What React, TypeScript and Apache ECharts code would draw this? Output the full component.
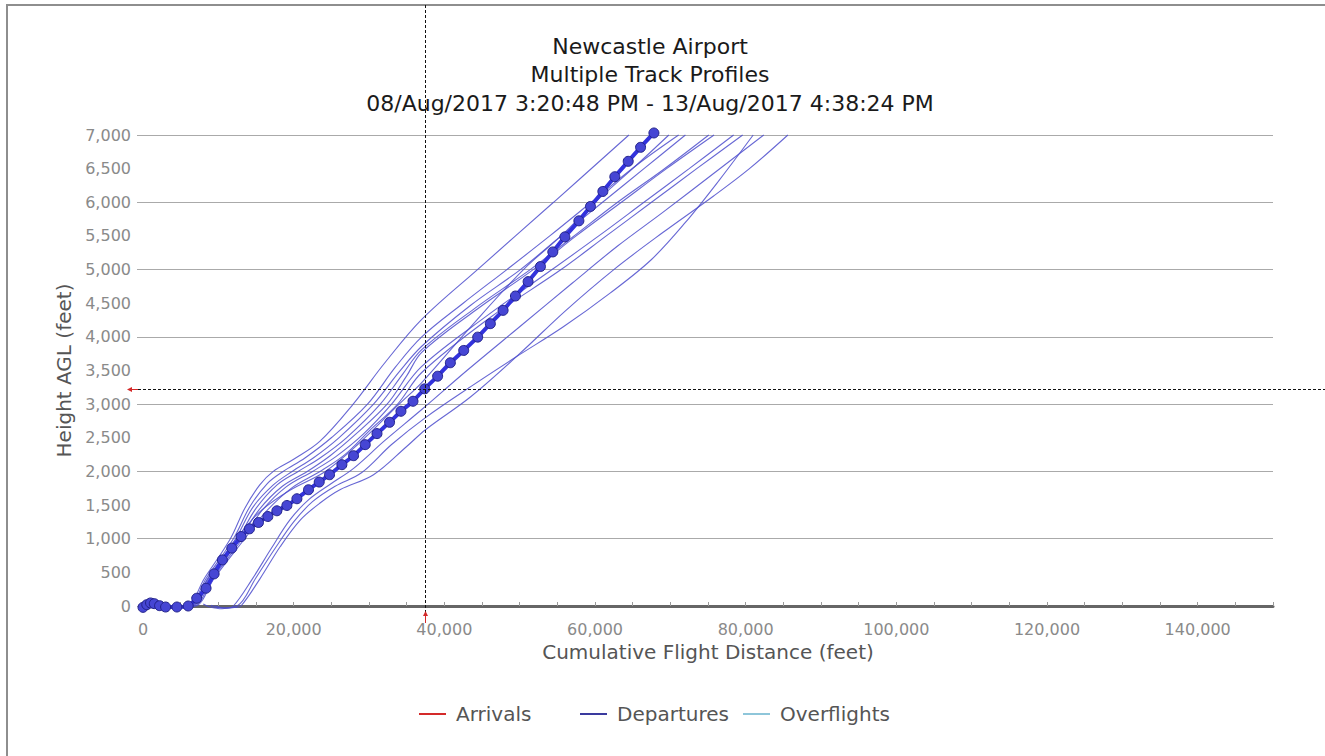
import React, { useEffect, useRef } from "react";
import * as echarts from "echarts";

const FONT = "DejaVu Sans";

const titleLines = [
  "Newcastle Airport",
  "Multiple Track Profiles",
  "08/Aug/2017 3:20:48 PM - 13/Aug/2017 4:38:24 PM",
];

const yLabelValues = [0, 500, 1000, 1500, 2000, 2500, 3000, 3500, 4000, 4500, 5000, 5500, 6000, 6500, 7000];
const xLabelValues = [0, 20000, 40000, 60000, 80000, 100000, 120000, 140000];

// Highlighted departure (thick, with points)
const trackSelected = [
  [0, -20], [500, 20], [1000, 45], [1500, 35], [2200, 5], [3000, -15], [4500, -15], [6000, 0],
  [7130, 115], [8370, 264], [9440, 477], [10540, 685], [11790, 860], [13020, 1032], [14130, 1147],
  [15330, 1241], [16570, 1330], [17770, 1415], [19100, 1494], [20430, 1594], [21970, 1728],
  [23390, 1842], [24760, 1951], [26400, 2100], [27950, 2234], [29500, 2398], [31060, 2562],
  [32730, 2730], [34240, 2894], [35840, 3043], [37390, 3228], [39110, 3415], [40800, 3615],
  [42570, 3798], [44430, 3996], [46110, 4196], [47800, 4394], [49440, 4607], [51120, 4821],
  [52760, 5045], [54400, 5262], [56000, 5486], [57860, 5724], [59400, 5938], [61040, 6161],
  [62630, 6380], [64410, 6609], [66050, 6817], [67820, 7030],
];

const trackU1 = [[400, 0], [3500, -15], [5800, 0], [8200, 420], [11600, 1000], [13500, 1450], [15500, 1800], [17300, 2000], [20000, 2180], [23500, 2450], [27900, 3000], [32000, 3600], [37000, 4260], [44400, 5000], [54500, 6000], [64500, 7000]];
const trackU2 = [[700, 0], [4000, -15], [6000, 0], [8500, 430], [12000, 1000], [14200, 1480], [16500, 1820], [18600, 2000], [21500, 2200], [25000, 2500], [29800, 3000], [33500, 3550], [37000, 4000], [42500, 4500], [48300, 5000], [54000, 5500], [59500, 6000], [65500, 6550], [71100, 7000]];
const trackU3 = [[1100, 0], [4200, -20], [6200, 0], [8700, 430], [12300, 1000], [14600, 1470], [17300, 1800], [19800, 2000], [22600, 2200], [26000, 2500], [30600, 3000], [34000, 3480], [37000, 3860], [43500, 4470], [50100, 5000], [55500, 5500], [61000, 6000], [66500, 6500], [72000, 7000]];
const trackU4 = [[600, 0], [4500, -15], [6400, 0], [8900, 420], [12600, 1000], [15000, 1450], [17800, 1800], [20600, 2000], [23500, 2200], [27000, 2500], [31500, 3000], [34500, 3450], [37000, 3810], [44000, 4420], [51400, 5000], [57000, 5480], [63000, 6000], [69000, 6480], [75100, 7000]];
const trackU5 = [[900, 0], [4500, -20], [6600, 0], [9100, 420], [12900, 1000], [15400, 1430], [18500, 1780], [21800, 2000], [24800, 2230], [28200, 2550], [32400, 3000], [35000, 3420], [37000, 3770], [44200, 4400], [51800, 5000], [57500, 5500], [63500, 6000], [69500, 6500], [75800, 7000]];
const trackU6 = [[1300, 0], [4800, -15], [6800, 0], [9300, 420], [13200, 1000], [15800, 1420], [19000, 1770], [22500, 2000], [25600, 2220], [29200, 2550], [33000, 3000], [37000, 3560], [45500, 4300], [54300, 5000], [60500, 5500], [66500, 6000], [72500, 6500], [78400, 7000]];
const trackU7 = [[500, 0], [5000, -15], [7000, 0], [9500, 420], [13500, 1000], [16300, 1400], [19800, 1760], [23500, 2000], [26800, 2250], [30000, 2600], [33800, 3000], [37000, 3470], [46000, 4280], [55500, 5000], [61500, 5500], [67500, 6000], [73500, 6500], [79600, 7000]];
const trackU8 = [[1500, 0], [5200, -10], [6300, 0], [8800, 430], [12400, 1000], [15500, 1400], [19500, 1720], [24200, 2000], [28500, 2400], [34000, 3000], [37000, 3320], [43500, 4150], [50500, 5000], [55500, 5500], [60000, 6000], [65000, 6500], [69800, 7000]];
const trackL1 = [[8000, 30], [8800, -10], [10500, -40], [12300, -20], [13000, 0], [15500, 400], [18200, 880], [20900, 1280], [23500, 1530], [26200, 1730], [30600, 1950], [35000, 2370], [37500, 2620], [43500, 3110], [50000, 3750], [56000, 4380], [62500, 5000], [69000, 5550], [75700, 6090], [80500, 6500], [85600, 7000]];
const trackL2 = [[9000, 10], [10500, -30], [12500, 0], [15000, 420], [17500, 850], [20000, 1250], [22500, 1550], [25500, 1780], [29000, 1980], [33000, 2400], [37500, 2800], [43500, 3260], [49500, 3700], [55800, 4150], [62000, 4650], [67500, 5150], [72000, 5700], [76500, 6330], [81000, 7000]];
const trackL3 = [[9500, 0], [11000, -30], [12000, 0], [14500, 400], [17000, 850], [19500, 1280], [22000, 1580], [25000, 1820], [28000, 2050], [32000, 2450], [37000, 2920], [43000, 3500], [50000, 4150], [57000, 4800], [63000, 5350], [69000, 5850], [76000, 6450], [82400, 7000]];

const otherDepartures = [trackU1, trackU2, trackU3, trackU4, trackU5, trackU6, trackU7, trackU8, trackL1, trackL2, trackL3];

// crosshair position (data coords)
const crosshair = [37390, 3228];

const legendNames = ["Arrivals", "Departures", "Overflights"];
const legendColors = ["#d42a2a", "#3a3a9e", "#8ec6da"];

export default function App() {
  const ref = useRef<HTMLDivElement>(null);
  useEffect(() => {
    if (!ref.current) return;
    const chart = echarts.init(ref.current, undefined, { renderer: "svg" });
    const fmt = (v: number) => v.toLocaleString("en-US");
    const thinSeries = otherDepartures.map((t) => ({
      name: "Departures",
      type: "line",
      data: t,
      showSymbol: false,
      smooth: 0.35,
      clip: false,
      silent: true,
      z: 2,
      lineStyle: { width: 1.1, color: "rgba(76,76,204,0.85)" },
      itemStyle: { color: legendColors[1] },
      emphasis: { disabled: true },
    }));
    const legendLefts = [414, 575, 738];
    chart.setOption({
      animation: false,
      backgroundColor: "#ffffff",
      title: {
        text: titleLines.join("\n"),
        left: 650,
        top: 32,
        padding: 0,
        textAlign: "center",
        textStyle: { fontSize: 22, lineHeight: 28.5, fontWeight: "normal", color: "#1a1a1a", fontFamily: FONT },
      },
      legend: legendNames.map((n, i) => ({
        data: [{ name: n, itemStyle: { color: legendColors[i] } }],
        left: legendLefts[i],
        top: 699,
        icon: "rect",
        itemWidth: 27,
        itemHeight: 2,
        itemGap: 10,
        selectedMode: false,
        textStyle: { fontSize: 20, color: "#555", fontFamily: FONT, padding: [0, 0, 0, 5] },
      })),
      grid: { left: 143, right: 52, top: 135, bottom: 150, containLabel: false },
      xAxis: {
        type: "value",
        min: 0,
        max: 150000,
        interval: 5000,
        offset: 5,
        name: "Cumulative Flight Distance (feet)",
        nameLocation: "middle",
        nameGap: 30,
        nameTextStyle: { fontSize: 20, color: "#555", fontFamily: FONT },
        axisLine: { show: true, lineStyle: { color: "#666", width: 3 } },
        axisTick: { show: true, inside: true, length: 4, lineStyle: { color: "#999" } },
        axisLabel: { customValues: xLabelValues, margin: 10, color: "#8a8a8a", fontSize: 16, fontFamily: FONT, formatter: fmt },
        splitLine: { show: false },
      },
      yAxis: {
        type: "value",
        min: 0,
        max: 7000,
        interval: 1000,
        name: "Height AGL (feet)",
        nameLocation: "middle",
        nameGap: 66,
        nameTextStyle: { fontSize: 20, color: "#555", fontFamily: FONT },
        axisLine: { show: false },
        axisTick: { show: true, length: 6, lineStyle: { color: "#aaa" } },
        axisLabel: { customValues: yLabelValues, margin: 12, color: "#8a8a8a", fontSize: 16, fontFamily: FONT, formatter: fmt },
        splitLine: { show: true, lineStyle: { color: "#aaaaaa", width: 1 } },
      },
      series: [
        { name: "Arrivals", type: "line", data: [], itemStyle: { color: legendColors[0] }, lineStyle: { color: legendColors[0] } },
        ...thinSeries,
        {
          name: "Departures",
          type: "line",
          data: trackSelected,
          smooth: 0.2,
          clip: false,
          silent: true,
          z: 3,
          symbol: "circle",
          symbolSize: 10,
          showAllSymbol: true,
          lineStyle: { width: 4, color: "#3232dc" },
          itemStyle: { color: "#4646d4", borderColor: "#22228a", borderWidth: 1 },
          emphasis: { disabled: true },
        },
        { name: "Overflights", type: "line", data: [], itemStyle: { color: legendColors[2] }, lineStyle: { color: legendColors[2] } },
      ],
    });
    const p = chart.convertToPixel({ xAxisIndex: 0, yAxisIndex: 0 }, crosshair) as number[];
    const cx = Math.round(p[0]) + 0.5;
    const cy = Math.round(p[1]) + 0.5;
    chart.setOption({
      graphic: [
        { type: "rect", z: 0, silent: true, shape: { x: 7, y: 5, width: 1400, height: 800 }, style: { fill: "none", stroke: "#8e8e8e", lineWidth: 2 } },
        { type: "line", z: 50, silent: true, shape: { x1: cx, y1: 5, x2: cx, y2: 622 }, style: { stroke: "#111", lineWidth: 1, lineDash: [3, 2] } },
        { type: "line", z: 50, silent: true, shape: { x1: 128, y1: cy, x2: 1325, y2: cy }, style: { stroke: "#111", lineWidth: 1, lineDash: [3, 2] } },
        { type: "line", z: 51, silent: true, shape: { x1: cx, y1: 612, x2: cx, y2: 623 }, style: { stroke: "#d42a2a", lineWidth: 1 } },
        { type: "polygon", z: 51, silent: true, shape: { points: [[cx - 2.5, 616], [cx + 2.5, 616], [cx, 611]] }, style: { fill: "#d42a2a" } },
        { type: "line", z: 51, silent: true, shape: { x1: 128, y1: cy, x2: 138, y2: cy }, style: { stroke: "#d42a2a", lineWidth: 1 } },
        { type: "polygon", z: 51, silent: true, shape: { points: [[132, cy - 2.5], [132, cy + 2.5], [127, cy]] }, style: { fill: "#d42a2a" } },
      ],
    });
    return () => chart.dispose();
  }, []);
  return <div ref={ref} style={{ position: "absolute", left: 0, top: 0, width: 1325, height: 756 }} />;
}
